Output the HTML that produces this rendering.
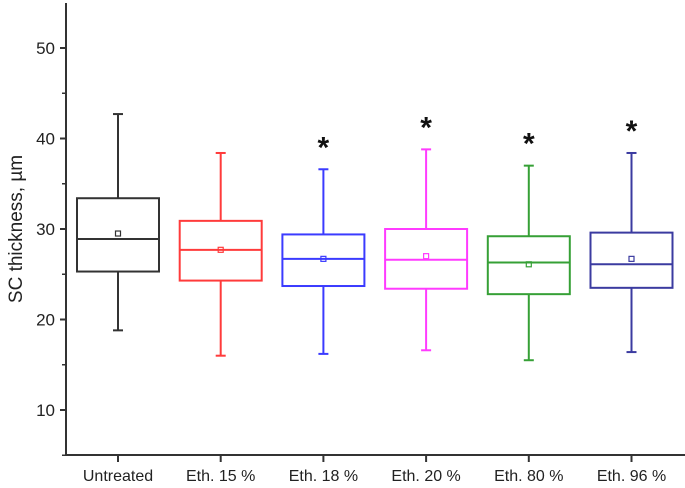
<!DOCTYPE html>
<html><head><meta charset="utf-8"><style>
body{margin:0;background:#fff;width:685px;height:488px;overflow:hidden}
svg{display:block;font-family:"Liberation Sans",sans-serif}
</style></head><body>
<svg id="c" width="685" height="488"></svg>
<script>
const categories=["Untreated","Eth. 15 %","Eth. 18 %","Eth. 20 %","Eth. 80 %","Eth. 96 %"];
const whiskerMin=[18.8,16.0,16.2,16.6,15.5,16.4];
const q1=[25.3,24.3,23.7,23.4,22.8,23.5];
const median=[28.9,27.7,26.7,26.6,26.3,26.1];
const q3=[33.4,30.9,29.4,30.0,29.2,29.6];
const whiskerMax=[42.7,38.4,36.6,38.8,37.0,38.4];
const means=[29.5,27.7,26.7,27.0,26.1,26.7];
const significant=[false,false,true,true,true,true];
const yTicks=[10,20,30,40,50];
const colors=["#333333","#ff3b3b","#3b3bff","#ff3bff","#36a036","#3b3ba0"];
const NS="http://www.w3.org/2000/svg";
const svg=document.getElementById('c');
const y=v=>410-(v-10)*9.05;
const x=i=>118+i*102.7;
function mk(t,a,p){const e=document.createElementNS(NS,t);for(const k in a)e.setAttribute(k,a[k]);(p||svg).appendChild(e);return e;}
const ax=mk('g',{});


mk('path',{d:'M66,3V455H685',fill:'none',stroke:'#333','stroke-width':2},ax);
yTicks.forEach(v=>{
 mk('line',{x1:60,x2:66,y1:y(v),y2:y(v),stroke:'#333','stroke-width':2},ax);
 const t=mk('text',{x:55,y:y(v)+6,'text-anchor':'end','font-size':17,fill:'#222'},ax);
 t.textContent=v;
 
 
 if(v<50){mk('line',{x1:62,x2:66,y1:y(v+5),y2:y(v+5),stroke:'#333','stroke-width':1.5},ax);}
});
mk('line',{x1:62,x2:66,y1:y(5),y2:y(5),stroke:'#333','stroke-width':1.5},ax);
const yt=mk('text',{transform:'translate(22,229) rotate(-90)','text-anchor':'middle','font-size':19,fill:'#222'});
yt.textContent='SC thickness, µm';


categories.forEach((c,i)=>{
 const cx=x(i),col=colors[i];
 mk('line',{x1:cx,x2:cx,y1:455,y2:462,stroke:'#333','stroke-width':2},ax);
 const t=mk('text',{x:cx,y:481,'text-anchor':'middle','font-size':16,fill:'#222'});
 t.textContent=c;
 
 
 const g=mk('g',{stroke:col,'stroke-width':2,fill:'none'});
 
 
 mk('line',{x1:cx,x2:cx,y1:y(whiskerMax[i]),y2:y(q3[i])},g);
 mk('line',{x1:cx,x2:cx,y1:y(q1[i]),y2:y(whiskerMin[i])},g);
 mk('line',{x1:cx-5,x2:cx+5,y1:y(whiskerMax[i]),y2:y(whiskerMax[i])},g);
 mk('line',{x1:cx-5,x2:cx+5,y1:y(whiskerMin[i]),y2:y(whiskerMin[i])},g);
 mk('rect',{x:cx-41,y:y(q3[i]),width:82,height:y(q1[i])-y(q3[i])},g);
 mk('line',{x1:cx-41,x2:cx+41,y1:y(median[i]),y2:y(median[i])},g);
 mk('rect',{x:cx-2.5,y:y(means[i])-2.5,width:5,height:5,'stroke-width':1.2},g);
 if(significant[i]){
  const s=mk('text',{x:cx,y:y(whiskerMax[i])-12,'text-anchor':'middle','font-size':30,'font-weight':'bold',fill:'#111'});
  s.textContent='*';
  
  
 }
});
</script>
</body></html>
